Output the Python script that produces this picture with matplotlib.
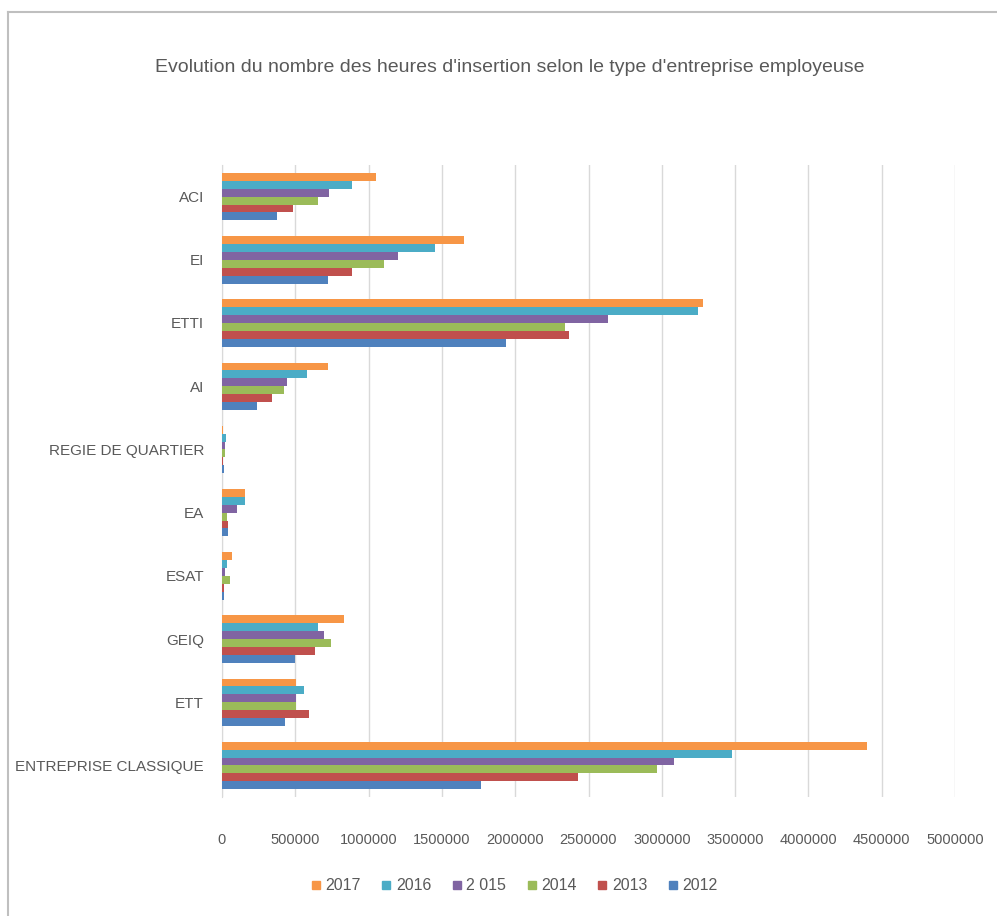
import matplotlib
matplotlib.use("Agg")
import matplotlib.pyplot as plt
from matplotlib.lines import Line2D
import numpy as np

plt.rcParams['font.family'] = ['Liberation Sans', 'DejaVu Sans']

categories = ["ENTREPRISE CLASSIQUE", "ETT", "GEIQ", "ESAT", "EA",
              "REGIE DE QUARTIER", "AI", "ETTI", "EI", "ACI"]
series_labels = ["2012", "2013", "2014", "2 015", "2016", "2017"]
v2012 = [1770000, 430000, 498000, 14000, 41000, 15000, 239000, 1940000, 723000, 375000]
v2013 = [2430000, 593000, 634000, 14000, 41000, 10000, 341000, 2370000, 887000, 485000]
v2014 = [2970000, 505000, 744000, 55000, 34000, 20000, 423000, 2340000, 1105000, 655000]
v2015 = [3080000, 505000, 696000, 20000, 102000, 20000, 443000, 2630000, 1200000, 730000]
v2016 = [3480000, 560000, 655000, 34000, 155000, 25000, 580000, 3250000, 1453000, 887000]
v2017 = [4400000, 505000, 832000, 68000, 155000, 5000, 723000, 3280000, 1650000, 1050000]
series = [v2012, v2013, v2014, v2015, v2016, v2017]
colors = ["#4F81BD", "#C0504D", "#9BBB59", "#8064A2", "#4BACC6", "#F79646"]
xticks = list(range(0, 5000001, 500000))

fig = plt.figure(figsize=(9.97, 9.16), dpi=100)
ax = fig.add_axes([222/997, 1-797/916, (955-222)/997, (797-165)/916])

n = len(series)
bh = 0.125
y = np.arange(len(categories))
for i, (vals, c) in enumerate(zip(series, colors)):
    off = (i - (n-1)/2) * bh
    ax.barh(y + off, vals, height=bh, color=c, zorder=3)

ax.set_xlim(0, 5000000)
ax.set_ylim(-0.5, len(categories) - 0.5)
ax.set_xticks(xticks)
ax.set_xticklabels([str(t) for t in xticks], fontsize=10.5, color="#595959")
ax.set_yticks(y)
ax.set_yticklabels(categories, fontsize=11, color="#595959")
ax.tick_params(axis='y', length=0, pad=13)
ax.tick_params(axis='x', length=0, pad=26)
ax.grid(axis='x', color="#D9D9D9", linewidth=1, zorder=0)
for s in ['top', 'right', 'bottom']:
    ax.spines[s].set_visible(False)
ax.spines['left'].set_color("#D9D9D9")

fig.text(510/997, 1-68/916, "Evolution du nombre des heures d'insertion selon le type d'entreprise employeuse",
         ha='center', va='center', fontsize=14, color="#595959")

handles = [Line2D([], [], marker='s', linestyle='none', markersize=6,
                  markerfacecolor=colors[i], markeredgecolor=colors[i])
           for i in range(n - 1, -1, -1)]
labels = [series_labels[i] for i in range(n - 1, -1, -1)]
fig.legend(handles, labels, loc='center', bbox_to_anchor=(512/997, 1-886/916),
           ncol=6, frameon=False, fontsize=11.5, handletextpad=0.0,
           handlelength=1.2, columnspacing=1.0, labelcolor="#595959")

# outer frame (top and left edges visible)
fig.add_artist(Line2D([8/997, 8/997], [0, 1-12/916], transform=fig.transFigure,
                      color="#BFBFBF", linewidth=1.5))
fig.add_artist(Line2D([8/997, 1], [1-12/916, 1-12/916], transform=fig.transFigure,
                      color="#BFBFBF", linewidth=1.5))

fig.savefig("out.png", dpi=100, facecolor="white")
